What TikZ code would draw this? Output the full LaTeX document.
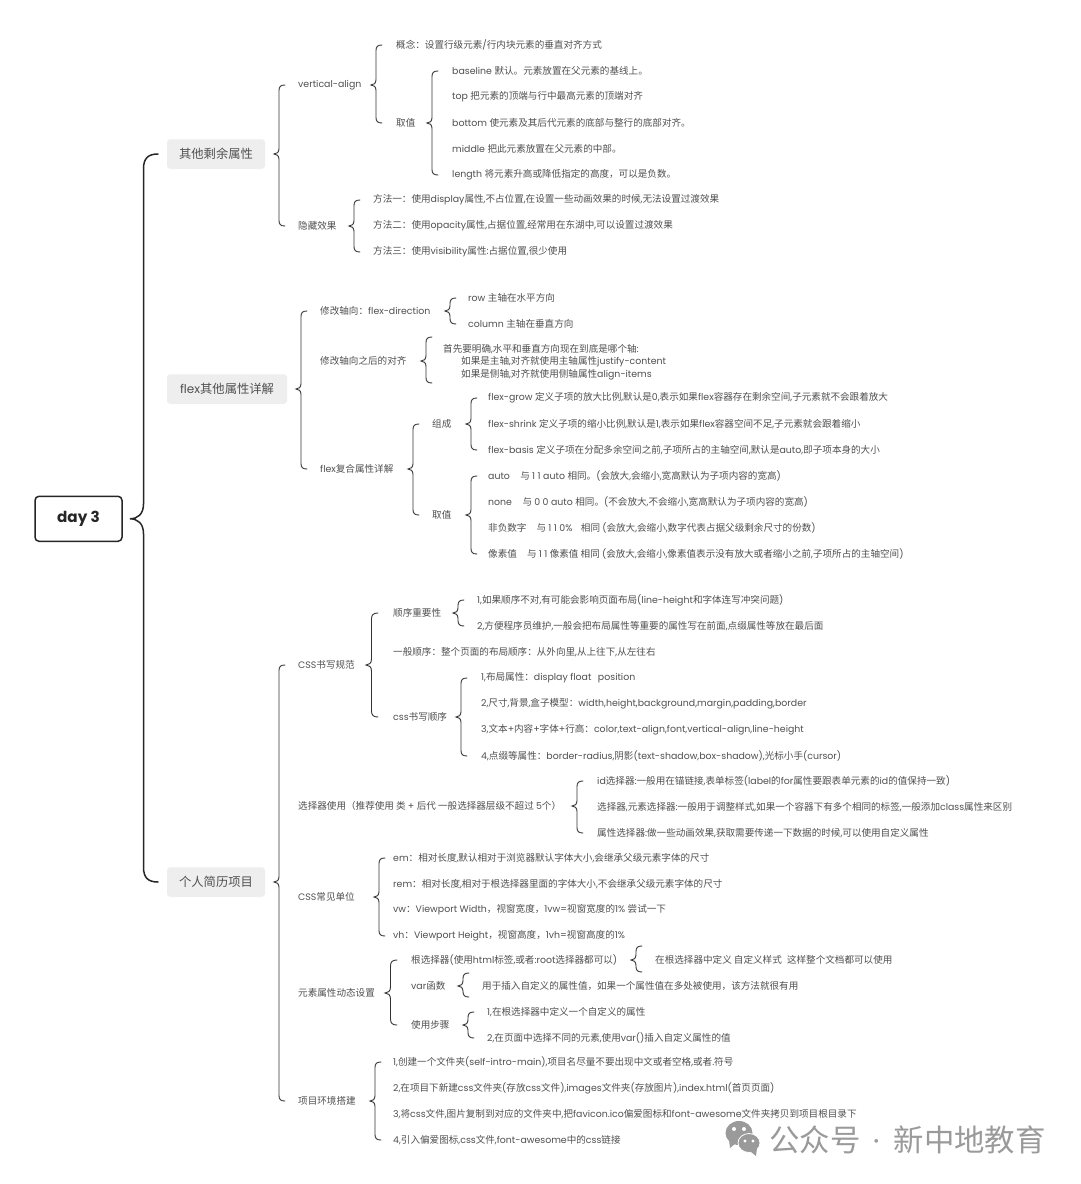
\documentclass[tikz,border=0pt]{standalone}
\usepackage{fontspec}
\usetikzlibrary{calc}
\setmainfont[Scale=0.98]{Poppins}
\newfontfamily\latf[Scale=0.98]{Poppins}
\newfontfamily\cjkf{Noto Sans CJK SC}
\XeTeXinterchartokenstate=1
\newXeTeXintercharclass\cjkclass
\count255="3000
\loop\XeTeXcharclass\count255=\cjkclass\ifnum\count255<"9FFF \advance\count255 by 1 \repeat
\count255="FF00
\loop\XeTeXcharclass\count255=\cjkclass\ifnum\count255<"FFEF \advance\count255 by 1 \repeat
\XeTeXinterchartoks 0 \cjkclass={\cjkf}
\XeTeXinterchartoks \cjkclass 0={\latf}
\XeTeXinterchartoks 4095 \cjkclass={\cjkf}
\XeTeXinterchartoks 4095 0={\latf}
\definecolor{ink}{HTML}{505050}
\definecolor{brk}{HTML}{333333}
\definecolor{pill}{HTML}{EEEEEE}
\definecolor{wmgray}{HTML}{9A9A9A}
\tikzset{
  txt/.style={anchor=west,inner sep=0pt,text=ink,yshift=-1pt,font=\fontsize{9.58}{12.4}\selectfont},
  pillnode/.style={fill=pill,rounded corners=3pt,inner sep=0pt,minimum height=29.5pt,text=ink,font=\fontsize{12.3}{14}\selectfont},
  rootnode/.style={draw=black!85,line width=1.5pt,rounded corners=4pt,inner sep=0pt,minimum width=87pt,minimum height=45pt,text=black!85,font=\fontsize{15.5}{18}\selectfont\bfseries},
  subbrace/.style={draw=brk,line width=0.9pt,line cap=round},
  rootbrace/.style={draw=black!85,line width=1.5pt,line cap=round},
  markbubble/.style={fill=wmgray,draw=white,line width=0.8pt},
  markeye/.style={fill=white,draw=none}
}
% #1 style, #2 spine offset, #3 parent, #4 top end, #5 bottom end, #6 tip x
\newcommand\brc[6]{%
  \draw[#1] let \p1=(#3),\p2=(#4),\p3=(#5),\n1={(#6+#2)*1pt},\n2={(#6+2*#2+1)*1pt},\n3={(#6)*1pt},\n4={#2*1.1pt} in
    (\n2,\y2) .. controls ({\n1+\n4*0.3},\y2) and (\n1,{\y2-\n4*0.3}) .. (\n1,{\y2-\n4})
    -- (\n1,{\y1+\n4}) .. controls (\n1,{\y1+\n4*0.3}) and ({\n3+\n4*0.5},\y1) .. (\n3,\y1)
    .. controls ({\n3+\n4*0.5},\y1) and (\n1,{\y1-\n4*0.3}) .. (\n1,{\y1-\n4})
    -- (\n1,{\y3+\n4}) .. controls (\n1,{\y3+\n4*0.3}) and ({\n1+\n4*0.3},\y3) .. (\n2,\y3);
}
\begin{document}
\begin{tikzpicture}[x=1pt,y=-1pt]
\useasboundingbox (0,0) rectangle (1080,1184);
\fill[white] (0,0) rectangle (1080,1184);

\node[rootnode] (root) at (78.5,518.8) {day 3};
\node[pillnode,minimum width=98pt] (a) at (216,154) {其他剩余属性};
\node[pillnode,minimum width=120pt] (b) at (227,389) {flex其他属性详解};
\node[pillnode,minimum width=98pt] (c) at (216,882) {个人简历项目};
\brc{rootbrace}{13.5}{root}{a}{c}{130}

% ---- branch a
\node[txt] (va) at (298,84) {vertical-align};
\node[txt] (gn) at (396,44) {概念：设置行级元素/行内块元素的垂直对齐方式};
\node[txt] (qz) at (396,122) {取值};
\node[txt] (q1) at (452,70) {baseline 默认。元素放置在父元素的基线上。};
\node[txt] (q2) at (452,96) {top 把元素的顶端与行中最高元素的顶端对齐};
\node[txt] (q3) at (452,122) {bottom 使元素及其后代元素的底部与整行的底部对齐。};
\node[txt] (q4) at (452,148) {middle 把此元素放置在父元素的中部。};
\node[txt] (q5) at (452,174) {length 将元素升高或降低指定的高度，可以是负数。};
\node[txt] (yc) at (298,225) {隐藏效果};
\node[txt] (y1) at (373,199) {方法一：使用display属性,不占位置,在设置一些动画效果的时候,无法设置过渡效果};
\node[txt] (y2) at (373,225) {方法二：使用opacity属性,占据位置,经常用在东湖中,可以设置过渡效果};
\node[txt] (y3) at (373,251) {方法三：使用visibility属性:占据位置,很少使用};
\brc{subbrace}{5}{a}{va}{yc}{274}
\brc{subbrace}{5}{va}{gn}{qz}{371}
\brc{subbrace}{5}{qz}{q1}{q5}{427}
\brc{subbrace}{5}{yc}{y1}{y3}{349}

% ---- branch b
\node[txt] (fd) at (320,310) {修改轴向：flex-direction};
\node[txt] (f1) at (468,297) {row 主轴在水平方向};
\node[txt] (f2) at (468,323) {column 主轴在垂直方向};
\node[txt] (al) at (320,360) {修改轴向之后的对齐};
\node[txt,align=left] (a1) at (443,361) {首先要明确,水平和垂直方向现在到底是哪个轴:\\\hspace*{18pt}如果是主轴,对齐就使用主轴属性justify-content\\\hspace*{18pt}如果是侧轴,对齐就使用侧轴属性align-items};
\coordinate (a1t) at (443,337);
\coordinate (a1b) at (443,383);
\node[txt] (fc) at (320,468) {flex复合属性详解};
\node[txt] (zc) at (432,423) {组成};
\node[txt] (g1) at (488,397) {flex-grow 定义子项的放大比例,默认是0,表示如果flex容器存在剩余空间,子元素就不会跟着放大};
\node[txt] (g2) at (488,423) {flex-shrink 定义子项的缩小比例,默认是1,表示如果flex容器空间不足,子元素就会跟着缩小};
\node[txt] (g3) at (488,449) {flex-basis 定义子项在分配多余空间之前,子项所占的主轴空间,默认是auto,即子项本身的大小};
\node[txt] (qv) at (432,514) {取值};
\node[txt] (v1) at (488,475) {auto\hspace{8pt} 与 1 1 auto 相同。(会放大,会缩小,宽高默认为子项内容的宽高)};
\node[txt] (v2) at (488,501) {none\hspace{8pt} 与 0 0 auto 相同。(不会放大,不会缩小,宽高默认为子项内容的宽高)};
\node[txt] (v3) at (488,527) {非负数字\hspace{8pt} 与 1 1 0\%\hspace{6pt} 相同 (会放大,会缩小,数字代表占据父级剩余尺寸的份数)};
\node[txt] (v4) at (488,553) {像素值\hspace{8pt} 与 1 1 像素值 相同 (会放大,会缩小,像素值表示没有放大或者缩小之前,子项所占的主轴空间)};
\brc{subbrace}{5}{b}{fd}{fc}{296}
\brc{subbrace}{5}{fd}{f1}{f2}{445}
\brc{subbrace}{5}{al}{a1t}{a1b}{421}
\brc{subbrace}{5}{fc}{zc}{qv}{408}
\brc{subbrace}{5}{zc}{g1}{g3}{466}
\brc{subbrace}{5}{qv}{v1}{v4}{466}

% ---- branch c
\node[txt] (css) at (298,664) {CSS书写规范};
\node[txt] (sx) at (393,612) {顺序重要性};
\node[txt] (s1) at (477,599) {1,如果顺序不对,有可能会影响页面布局(line-height和字体连写冲突问题)};
\node[txt] (s2) at (477,625) {2,方便程序员维护,一般会把布局属性等重要的属性写在前面,点缀属性等放在最后面};
\node[txt] (yb) at (393,651) {一般顺序：整个页面的布局顺序：从外向里,从上往下,从左往右};
\node[txt] (cs) at (393,716) {css书写顺序};
\node[txt] (o1) at (481,677) {1,布局属性：display float\hspace{4pt} position};
\node[txt] (o2) at (481,703) {2,尺寸,背景,盒子模型：width,height,background,margin,padding,border};
\node[txt] (o3) at (481,729) {3,文本+内容+字体+行高：color,text-align,font,vertical-align,line-height};
\node[txt] (o4) at (481,755) {4,点缀等属性：border-radius,阴影(text-shadow,box-shadow),光标小手(cursor)};
\node[txt] (sel) at (298,805) {选择器使用（推荐使用 类 + 后代 一般选择器层级不超过 5个）};
\node[txt] (e1) at (597,780) {id选择器:一般用在锚链接,表单标签(label的for属性要跟表单元素的id的值保持一致)};
\node[txt] (e2) at (597,806) {选择器,元素选择器:一般用于调整样式,如果一个容器下有多个相同的标签,一般添加class属性来区别};
\node[txt] (e3) at (597,832) {属性选择器:做一些动画效果,获取需要传递一下数据的时候,可以使用自定义属性};
\node[txt] (un) at (298,896) {CSS常见单位};
\node[txt] (u1) at (393,857) {em：相对长度,默认相对于浏览器默认字体大小,会继承父级元素字体的尺寸};
\node[txt] (u2) at (393,883) {rem：相对长度,相对于根选择器里面的字体大小,不会继承父级元素字体的尺寸};
\node[txt] (u3) at (393,909) {vw：Viewport Width，视窗宽度，1vw=视窗宽度的1\% 尝试一下};
\node[txt] (u4) at (393,935) {vh：Viewport Height，视窗高度，1vh=视窗高度的1\%};
\node[txt] (dy) at (298,992) {元素属性动态设置};
\node[txt] (d1) at (411,959) {根选择器(使用html标签,或者:root选择器都可以)};
\node[txt] (d1a) at (655,959) {在根选择器中定义 自定义样式\hspace{3pt} 这样整个文档都可以使用};
\coordinate (d1t) at (655,946);
\coordinate (d1b) at (655,972);
\node[txt] (d2) at (411,985) {var函数};
\node[txt] (d2a) at (482,985) {用于插入自定义的属性值，如果一个属性值在多处被使用，该方法就很有用};
\coordinate (d2t) at (482,973);
\coordinate (d2b) at (482,997);
\node[txt] (d3) at (411,1024) {使用步骤};
\node[txt] (d3a) at (487,1011) {1,在根选择器中定义一个自定义的属性};
\node[txt] (d3b) at (487,1037) {2,在页面中选择不同的元素,使用var()插入自定义属性的值};
\node[txt] (pj) at (298,1100) {项目环境搭建};
\node[txt] (p1) at (393,1061) {1,创建一个文件夹(self-intro-main),项目名尽量不要出现中文或者空格,或者.符号};
\node[txt] (p2) at (393,1087) {2,在项目下新建css文件夹(存放css文件),images文件夹(存放图片),index.html(首页页面)};
\node[txt] (p3) at (393,1113) {3,将css文件,图片复制到对应的文件夹中,把favicon.ico偏爱图标和font-awesome文件夹拷贝到项目根目录下};
\node[txt] (p4) at (393,1139) {4,引入偏爱图标,css文件,font-awesome中的css链接};
\brc{subbrace}{5}{c}{css}{pj}{274}
\brc{subbrace}{5.5}{css}{sx}{cs}{366}
\brc{subbrace}{5}{sx}{s1}{s2}{453}
\brc{subbrace}{5}{cs}{o1}{o4}{456}
\brc{subbrace}{5}{sel}{e1}{e3}{572}
\brc{subbrace}{5}{un}{u1}{u4}{374}
\brc{subbrace}{5.5}{dy}{d1}{d3}{385}
\brc{subbrace}{5}{d1}{d1t}{d1b}{631}
\brc{subbrace}{5}{d2}{d2t}{d2b}{458}
\brc{subbrace}{5}{d3}{d3a}{d3b}{463}
\brc{subbrace}{5}{pj}{p1}{p4}{370}

% ---- watermark
\fill[wmgray] (739,1133) ellipse [x radius=13.5pt,y radius=12pt];
\fill[wmgray] (730,1148) -- (729,1140) -- (736,1143) -- cycle;
\fill[markeye] (734,1129) circle (2pt) (744,1129) circle (2pt);
\draw[markbubble] (749,1143) ellipse [x radius=11pt,y radius=9.5pt];
\fill[wmgray] (756,1156) -- (757,1148) -- (750,1151) -- cycle;
\fill[markeye] (745,1141) circle (1.6pt) (753,1141) circle (1.6pt);
\node[anchor=west,inner sep=0pt,text=wmgray,font=\fontsize{30.4}{33}\selectfont] (wm) at (769,1140) {公众号\hspace{13pt}·\hspace{14pt}新中地教育};
\end{tikzpicture}
\end{document}
